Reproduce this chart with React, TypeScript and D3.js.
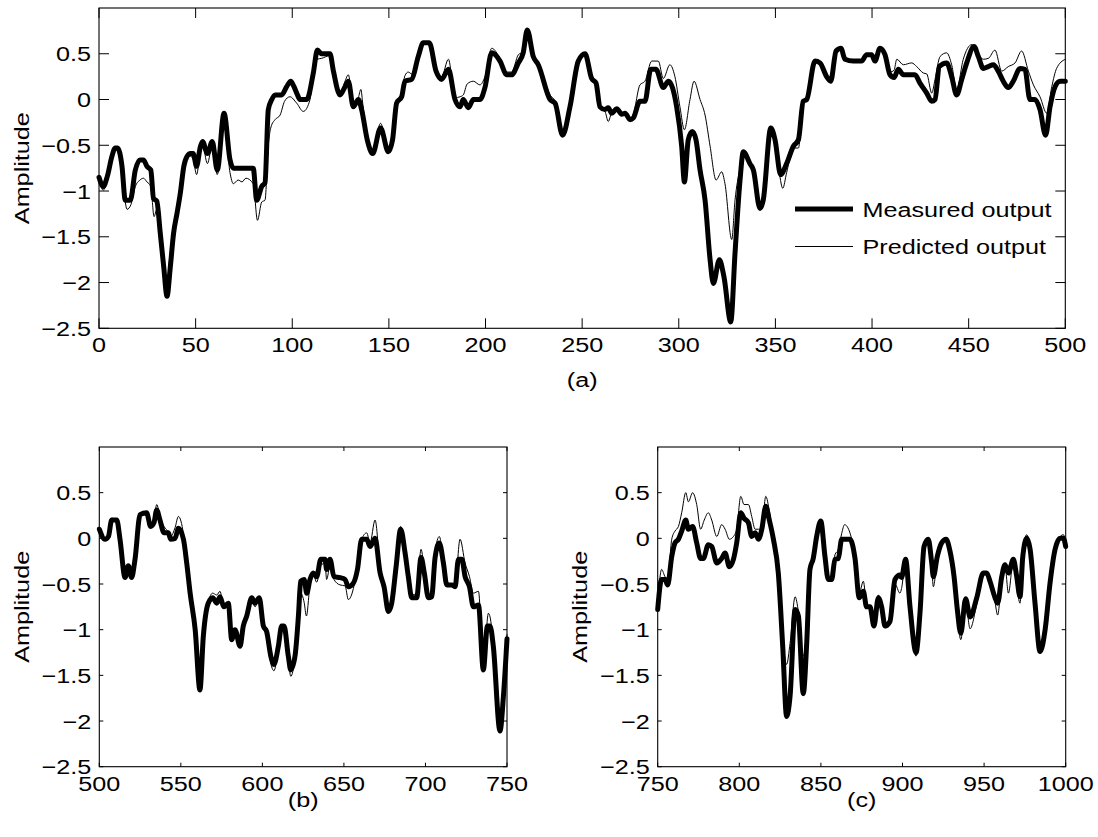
import React from "react";
import * as d3 from "d3";

// ---------- data ----------
const Y_TICKS = [-2.5, -2, -1.5, -1, -0.5, 0, 0.5];
const X_TICKS_A = [0, 50, 100, 150, 200, 250, 300, 350, 400, 450, 500];
const X_TICKS_B = [500, 550, 600, 650, 700, 750];
const X_TICKS_C = [750, 800, 850, 900, 950, 1000];
const PANEL_LABELS = ["(a)", "(b)", "(c)"];
const LEGEND_LABELS = ["Measured output", "Predicted output"];
const Y_LABEL = "Amplitude";

const measuredA: [number, number][] = [
  [0, -0.85], [2.2, -0.95], [4.3, -0.84], [6.7, -0.62], [8.4, -0.53], [9.6, -0.53], [11.9, -0.73],
  [13.6, -1.1], [16.2, -1.1], [18.8, -0.77], [21.2, -0.66], [23, -0.66], [24.8, -0.73], [26.8, -0.77],
  [28.2, -1.08], [29.9, -1.11], [31.7, -1.46], [33.5, -1.83], [35.2, -2.15], [36.9, -1.83], [38.6, -1.46],
  [40.4, -1.24], [42.1, -1.02], [43.9, -0.73], [45.6, -0.62], [47.3, -0.59], [48.7, -0.59], [50.5, -0.73],
  [52.4, -0.52], [53.6, -0.46], [56.1, -0.59], [58.6, -0.46], [61.2, -0.77], [64.7, -0.15], [67.8, -0.66],
  [69.5, -0.75], [79.8, -0.75], [81.6, -1.1], [84.2, -0.95], [85.9, -0.91], [87.6, -0.11], [89.4, 0],
  [91.1, 0.05], [94.5, 0.05], [97.1, 0.14], [99.2, 0.2], [100.9, 0.14], [102.5, 0.06], [104, 0],
  [107.5, 0], [110.9, 0.29], [113, 0.54], [115.2, 0.5], [119.5, 0.5], [121.3, 0.31], [124.7, 0.05],
  [127.3, 0.14], [129, 0.2], [131.6, -0.08], [134.2, 0], [135.9, -0.11], [138.8, -0.44], [141.6, -0.59],
  [145.7, -0.31], [149.7, -0.57], [151.9, -0.44], [154, -0.04], [156.6, 0.03], [158.3, 0.2], [161.8, 0.22],
  [165.2, 0.47], [167.8, 0.62], [170.9, 0.62], [174.4, 0.31], [177.3, 0.22], [180.8, 0.33], [184.2, 0],
  [186.8, -0.08], [188.5, 0], [191.1, -0.09], [193.7, 0], [197.1, 0], [199.7, 0.13], [203.2, 0.51],
  [207.5, 0.42], [211, 0.27], [213.5, 0.27], [217, 0.4], [219.5, 0.51], [221.6, 0.76], [224.7, 0.47],
  [227.3, 0.38], [233.4, 0], [236, -0.04], [239.9, -0.39], [243.7, -0.08], [248, 0.42], [251.5, 0.5],
  [254.9, 0.23], [257.2, 0.18], [259.2, -0.08], [261.8, -0.11], [263.5, -0.09], [265.3, -0.15],
  [267.9, -0.1], [270.5, -0.16], [272.2, -0.15], [274.8, -0.22], [276.5, -0.2], [279.9, -0.02],
  [282.5, -0.02], [285.5, 0.33], [288.2, 0.33], [292, 0.13], [294.6, 0.2], [298.9, -0.08], [301.5, -0.51],
  [302.9, -0.9], [304.9, -0.44], [307, -0.35], [308.9, -0.44], [311, -0.77], [313.6, -1.1], [316.2, -1.75],
  [317.9, -2.01], [321, -1.75], [323.4, -1.94], [326.9, -2.43], [329.1, -1.68], [331.7, -0.88],
  [333.4, -0.57], [336.8, -0.7], [338.6, -0.77], [342, -1.19], [343.7, -1.1], [347.6, -0.31],
  [349.8, -0.44], [352.7, -0.82], [355.8, -0.7], [359.3, -0.51], [361.9, -0.44], [364.4, -0.02],
  [366.2, 0], [370.5, 0.42], [373.1, 0.4], [376.5, 0.25], [378.6, 0.2], [381.4, 0.53], [383.9, 0.56],
  [386, 0.44], [390.3, 0.42], [394.6, 0.42], [397.2, 0.49], [399.8, 0.49], [401.5, 0.42], [404.1, 0.56],
  [406.7, 0.49], [409.3, 0.27], [411.4, 0.24], [413.6, 0.33], [416.2, 0.27], [422.2, 0.27], [424.8, 0.18],
  [428.3, 0.07], [430.9, -0.02], [432.6, 0], [434.8, 0.36], [438.6, 0.4], [441.2, 0.25], [443.8, 0.05],
  [446.4, 0.22], [449, 0.4], [452.8, 0.58], [455, 0.47], [457.6, 0.34], [460.2, 0.36], [462.8, 0.38],
  [465.3, 0.31], [467.9, 0.2], [470.5, 0.13], [473.1, 0.2], [476.6, 0.34], [479.1, 0.33], [481.7, 0],
  [484.3, 0], [486.9, -0.11], [489.8, -0.39], [492.1, -0.08], [494.7, 0.14], [497.3, 0.2], [500, 0.2],
];

const predictedA: [number, number][] = [
  [0, -0.88], [2.2, -0.99], [4.3, -0.88], [6.7, -0.65], [8.4, -0.55], [9.6, -0.56], [11.9, -0.8],
  [14.5, -1.2], [16.5, -1.15], [18.8, -0.95], [21.2, -0.88], [23, -0.86], [24.8, -0.9], [26.8, -0.95],
  [28.5, -1.28], [29.9, -1.2], [31.7, -1.5], [33.5, -1.85], [35, -2.05], [36.5, -1.75], [38.6, -1.4],
  [40.4, -1.25], [42.1, -1.05], [43.9, -0.8], [45.6, -0.65], [47.3, -0.62], [48.7, -0.65], [50.5, -0.82],
  [52.4, -0.58], [53.6, -0.5], [56.1, -0.7], [58.6, -0.5], [61.2, -0.82], [64.7, -0.2], [67.8, -0.8],
  [69.5, -0.92], [72, -0.88], [74, -0.9], [76, -0.86], [79.8, -0.92], [82, -1.32], [84.2, -1.12],
  [85.9, -1.1], [87.6, -0.5], [89, -0.3], [91.1, -0.22], [93.7, -0.17], [96, -0.02], [98.8, 0.03],
  [102.3, -0.04], [105.7, -0.13], [109.2, 0], [110.9, 0.3], [113, 0.44], [115.2, 0.45], [119.5, 0.48],
  [121.3, 0.33], [124.7, 0.06], [127.3, 0.2], [129, 0.27], [131.6, -0.05], [134.2, 0.02], [135.5, 0.11],
  [136.5, -0.05], [138.8, -0.43], [141.6, -0.57], [145.7, -0.26], [149.7, -0.55], [151.9, -0.43],
  [154, -0.05], [156.6, 0.08], [158.3, 0.26], [160, 0.3], [161.8, 0.28], [165.2, 0.5], [167.8, 0.62],
  [170.9, 0.6], [174.4, 0.33], [177.3, 0.25], [180.8, 0.44], [184.2, 0.02], [186.8, 0.03], [188.5, 0.05],
  [190.5, 0.17], [193.7, 0.2], [197.1, 0.16], [199.7, 0.25], [203.2, 0.56], [207.5, 0.45], [211, 0.3],
  [213.5, 0.3], [217, 0.49], [219.5, 0.52], [221.6, 0.74], [224.7, 0.47], [227.3, 0.38], [233.4, 0.05],
  [236, -0.02], [239.9, -0.38], [243.7, -0.08], [248, 0.42], [251.5, 0.5], [254.9, 0.23], [257.2, 0.18],
  [259.2, -0.1], [261.8, -0.13], [263.5, -0.24], [265.3, -0.14], [267.9, -0.1], [270.5, -0.17],
  [272.2, -0.15], [274.8, -0.22], [276.5, -0.16], [279.9, 0.16], [282.5, 0.2], [286, 0.42], [289.4, 0.42],
  [292, 0.23], [295.4, 0.38], [298, 0.25], [300.6, -0.08], [302.9, -0.33], [305.8, 0], [307.9, 0.2],
  [311, 0], [313.6, -0.17], [316.2, -0.51], [319.3, -0.88], [322.2, -0.79], [323.9, -0.92], [327.4, -1.53],
  [329.1, -1.1], [331.7, -0.75], [333.4, -0.59], [336.8, -0.72], [338.6, -0.79], [342, -1.17],
  [343.7, -1.08], [347.6, -0.33], [349.8, -0.46], [352, -0.8], [353.8, -0.97], [355.8, -0.8],
  [359.3, -0.53], [361.9, -0.53], [364.4, -0.05], [366.2, 0], [370.5, 0.4], [373.1, 0.38], [376.5, 0.25],
  [378.6, 0.22], [381.4, 0.5], [383.9, 0.55], [386, 0.43], [390.3, 0.41], [394.6, 0.42], [397.2, 0.48],
  [399.8, 0.47], [401.5, 0.43], [404.1, 0.55], [406.7, 0.48], [409.3, 0.3], [411.4, 0.32], [412.8, 0.44],
  [416.2, 0.38], [420.5, 0.4], [423.1, 0.36], [426.5, 0.29], [428.3, 0.28], [430.9, 0.07], [432.6, 0.22],
  [435.2, 0.47], [438.6, 0.51], [441.2, 0.38], [443.8, 0.11], [447.2, 0.44], [451.6, 0.6], [455, 0.49],
  [457.6, 0.44], [460.2, 0.45], [463.6, 0.54], [467.1, 0.31], [470.5, 0.36], [474, 0.4], [477.4, 0.53],
  [480.9, 0.31], [483.5, 0.16], [486.9, 0.03], [490.4, -0.15], [493, 0.14], [495.5, 0.34], [500, 0.44],
];

const measuredB: [number, number][] = [
  [500, 0.1], [503.5, -0.01], [505.6, 0.02], [507.6, 0.2], [510.7, 0.2], [512.7, -0.01], [515.8, -0.43],
  [517.8, -0.3], [519.8, -0.43], [521.9, -0.23], [525, 0.26], [529, 0.28], [531.5, 0.13], [533.5, 0.17],
  [535.2, 0.31], [537.2, 0.2], [539.7, 0.06], [542.3, 0.06], [543.8, -0.01], [546.5, 0], [548.5, 0.11],
  [551.6, -0.01], [553.6, -0.27], [555.7, -0.6], [558.8, -1], [561.7, -1.66], [563.8, -1.07],
  [566.8, -0.71], [569.5, -0.65], [572, -0.71], [574, -0.64], [576.4, -0.75], [579.1, -0.71],
  [581.2, -1.11], [583.2, -1], [586.3, -1.18], [588.3, -0.96], [590.4, -0.85], [593.5, -0.65],
  [595.5, -0.71], [598.1, -0.65], [600.6, -0.96], [602.6, -1.02], [605.3, -1.3], [607.1, -1.38],
  [609.8, -1.18], [611.8, -0.96], [613.3, -0.96], [615.9, -1.29], [617.4, -1.44], [620, -1.29],
  [622.1, -0.85], [623.5, -0.47], [625.6, -0.45], [627.2, -0.6], [629.2, -0.45], [631.2, -0.38],
  [633.3, -0.42], [635.8, -0.23], [638.4, -0.23], [639.4, -0.34], [641.5, -0.23], [643.9, -0.42],
  [647.6, -0.43], [650.7, -0.45], [652.7, -0.53], [655.8, -0.49], [658.3, -0.34], [660.9, -0.01],
  [664, -0.01], [666, -0.09], [669.1, 0], [672.2, -0.38], [674.6, -0.53], [677.3, -0.8], [679.3, -0.71],
  [682, -0.31], [684.8, 0.1], [687.5, -0.16], [689.5, -0.42], [691.6, -0.65], [694.6, -0.65],
  [697.3, -0.21], [699.3, -0.38], [701.8, -0.65], [703.8, -0.64], [705.9, -0.21], [708.5, -0.05],
  [711, -0.27], [713.1, -0.51], [716.1, -0.51], [718.2, -0.53], [720.2, -0.23], [722.3, -0.23],
  [724.3, -0.42], [727, -0.53], [729.4, -0.75], [732.5, -0.73], [735.5, -1.44], [738, -0.96],
  [739.6, -0.96], [741.6, -1.18], [745.7, -2.11], [747.8, -1.73], [750, -1.1],
];

const predictedB: [number, number][] = [
  [500, 0.08], [503.5, -0.02], [505.6, 0.03], [507.6, 0.22], [510.7, 0.2], [512.7, -0.02], [515.8, -0.42],
  [517.8, -0.3], [519.8, -0.42], [521.9, -0.2], [525, 0.27], [529, 0.27], [531.5, 0.14], [533.5, 0.2],
  [535.2, 0.37], [537.2, 0.24], [539.7, 0.13], [542.3, 0.07], [543.8, 0.02], [546.5, 0.12], [548.5, 0.24],
  [551.6, 0.05], [553.6, -0.25], [555.7, -0.6], [558.8, -1], [561.7, -1.58], [563.8, -1.05], [566.8, -0.7],
  [569.5, -0.6], [572, -0.62], [574, -0.58], [576.4, -0.75], [579.1, -0.7], [581.2, -1.12], [583.2, -1],
  [586.3, -1.15], [588.3, -0.95], [590.4, -0.86], [593.5, -0.66], [595.5, -0.75], [598.1, -0.66],
  [600.6, -0.98], [602.6, -1.05], [605.3, -1.38], [607.1, -1.45], [609.8, -1.2], [611.8, -0.98],
  [613.3, -0.98], [615.9, -1.32], [617.4, -1.51], [620, -1.3], [622.1, -0.86], [623.5, -0.6],
  [625.6, -0.7], [627, -0.85], [629.2, -0.51], [631.2, -0.4], [633.3, -0.48], [635.8, -0.3],
  [638.4, -0.27], [639.4, -0.45], [641.5, -0.3], [643.9, -0.45], [647.6, -0.51], [650.7, -0.52],
  [652.7, -0.67], [655.8, -0.55], [658.3, -0.3], [660.9, -0.01], [664, 0.06], [666, -0.05], [669.1, 0.2],
  [672.2, -0.3], [674.6, -0.5], [677.3, -0.78], [679.3, -0.7], [682, -0.3], [684.8, 0.13], [687.5, -0.15],
  [689.5, -0.4], [691.6, -0.62], [694.6, -0.6], [697.3, -0.12], [699.3, -0.35], [701.8, -0.62],
  [703.8, -0.6], [705.9, -0.15], [708.5, 0.02], [711, -0.25], [713.1, -0.48], [716.1, -0.5], [718.2, -0.5],
  [721.2, -0.01], [724.3, -0.27], [727, -0.42], [729.4, -0.6], [732.5, -0.58], [735.5, -1.4],
  [738.6, -0.82], [739.6, -0.86], [741.6, -1.15], [745.7, -1.98], [747.8, -1.65], [750, -1.05],
];

const measuredC: [number, number][] = [
  [750, -0.78], [752.4, -0.45], [754.5, -0.45], [756.1, -0.51], [758.6, -0.2], [760.6, -0.05],
  [762.7, -0.01], [764.7, 0.08], [767.2, 0.2], [768.8, 0.1], [771.4, 0.13], [773.9, -0.05], [776.3, -0.22],
  [778, -0.22], [781, -0.07], [783.1, -0.09], [786.2, -0.27], [789.2, -0.22], [791.3, -0.16],
  [793.9, -0.31], [796.4, -0.23], [798.4, -0.05], [800.9, 0.28], [802.9, 0.22], [805.6, 0.17],
  [807.6, 0.02], [809.7, 0.06], [811.7, -0.01], [813.8, 0.1], [816.2, 0.35], [818.4, 0.2], [820.9, -0.01],
  [823.9, -0.38], [826.6, -1.18], [829, -1.95], [831.1, -1.73], [834.2, -0.78], [836.2, -0.85],
  [839.2, -1.7], [841.3, -1.15], [843.3, -0.34], [845.3, -0.22], [847.4, 0.02], [849.9, 0.19],
  [852.5, -0.2], [854.5, -0.45], [856.6, -0.45], [858.6, -0.23], [860.7, -0.22], [862.7, -0.01],
  [867.8, -0.01], [870.9, -0.22], [873.5, -0.65], [876, -0.58], [878, -0.75], [880.1, -0.75],
  [882.5, -0.96], [885.2, -0.65], [887.2, -0.75], [889.3, -0.96], [892.3, -0.91], [895.4, -0.45],
  [898.4, -0.4], [899.4, -0.43], [901.9, -0.23], [904.6, -0.75], [908.3, -1.25], [910.7, -0.82],
  [913.2, -0.09], [915.8, -0.01], [917.9, -0.27], [918.9, -0.42], [921.3, -0.2], [924, -0.05],
  [926.7, -0.01], [929.1, -0.14], [931.6, -0.42], [933.6, -0.78], [935.7, -1.04], [938.7, -0.66],
  [941.4, -0.86], [945.5, -0.65], [949.5, -0.38], [951.6, -0.38], [953.6, -0.47], [956.7, -0.65],
  [958.3, -0.71], [960.8, -0.42], [962.8, -0.29], [964.9, -0.38], [967.9, -0.23], [970, -0.42],
  [972, -0.64], [973.7, -0.2], [976.1, 0], [978.2, -0.12], [981.2, -0.71], [984.3, -1.24], [987.4, -1],
  [990.4, -0.49], [993.5, -0.12], [996.6, 0], [998.6, 0], [1000, -0.09],
];

const predictedC: [number, number][] = [
  [750, -0.72], [752.4, -0.34], [754.5, -0.42], [756.1, -0.44], [758.6, -0.01], [760.6, 0.08],
  [762.7, 0.13], [764.7, 0.28], [767.2, 0.5], [768.8, 0.4], [771.4, 0.5], [773.9, 0.37], [776.3, 0.1],
  [778.5, 0.2], [781, 0.28], [783.1, 0.2], [786.2, 0.02], [789.2, 0.15], [791.3, 0.1], [793.9, -0.01],
  [796.4, 0.02], [798.4, 0.1], [800.9, 0.46], [802.9, 0.37], [805.6, 0.37], [807.6, 0.24], [809.7, 0.1],
  [811.7, 0.1], [813.8, 0.1], [816.2, 0.46], [818.4, 0.3], [820.9, -0.01], [823.9, -0.38], [826.6, -1.1],
  [829, -1.38], [831.1, -1.15], [834.2, -0.64], [836.2, -0.8], [839.2, -1.29], [841.3, -1], [843.3, -0.3],
  [845.3, -0.2], [847.4, 0.02], [849.9, 0.15], [852.5, -0.2], [854.5, -0.42], [856.6, -0.43],
  [858.6, -0.18], [860.7, -0.12], [862.7, 0.05], [864.5, 0.15], [867.8, 0.06], [870.9, -0.2],
  [873.5, -0.6], [876, -0.47], [878, -0.72], [880.1, -0.75], [882.5, -0.98], [885.2, -0.62],
  [887.2, -0.75], [889.3, -0.98], [892.3, -0.92], [895.4, -0.5], [898.4, -0.6], [899.4, -0.55],
  [901.9, -0.25], [904.6, -0.75], [908.3, -1.29], [910.7, -0.85], [913.2, -0.08], [915.8, -0.02],
  [917.9, -0.3], [918.9, -0.53], [921.3, -0.22], [924, -0.04], [926.7, -0.02], [929.1, -0.15],
  [931.6, -0.45], [933.6, -0.82], [935.7, -1.11], [938.7, -0.7], [941.4, -0.99], [945.5, -0.72],
  [949.5, -0.4], [951.6, -0.4], [953.6, -0.5], [956.7, -0.7], [958.3, -0.84], [960.8, -0.45],
  [962.8, -0.3], [964.9, -0.6], [967.9, -0.25], [970, -0.52], [972, -0.71], [973.7, -0.2], [976.1, 0.04],
  [978.2, -0.12], [981.2, -0.72], [984.3, -1.26], [987.4, -1], [990.4, -0.5], [993.5, -0.1], [996.6, 0.02],
  [998.6, 0.04], [1000, -0.05],
];

// ---------- layout ----------
const FONT = "'Liberation Sans', Arial, Helvetica, sans-serif";
const FS = 21;
const SX = 1.2;

type PanelSpec = {
  left: number; right: number; top: number; bottom: number;
  xDomain: [number, number]; xTicks: number[];
  measured: [number, number][]; predicted: [number, number][];
  label: string; labelY: number; tickLen: number; legend: boolean;
};

const fmt = (v: number) => String(v).replace("-", "\u2212");

function SText(props: { x: number; y: number; anchor: string; children: string; rotate?: boolean }) {
  const { x, y, anchor, children, rotate } = props;
  return (
    <g transform={`translate(${x},${y})${rotate ? " rotate(-90)" : ""} scale(${SX},1)`}>
      <text x={0} y={0} textAnchor={anchor} fontFamily={FONT} fontSize={FS} fill="#000">
        {children}
      </text>
    </g>
  );
}

function Panel({ p }: { p: PanelSpec }) {
  const x = d3.scaleLinear().domain(p.xDomain).range([p.left, p.right]);
  const y = d3.scaleLinear().domain([-2.5, 1]).range([p.bottom, p.top]);
  const line = d3.line<[number, number]>().x((d) => x(d[0])).y((d) => y(d[1])).curve(d3.curveMonotoneX);
  const clipId = `clip-${p.label.replace(/[()]/g, "")}`;
  const L = p.tickLen;
  const cy = (p.top + p.bottom) / 2;
  return (
    <g>
      <defs>
        <clipPath id={clipId}>
          <rect x={p.left - 3} y={p.top} width={p.right - p.left + 6} height={p.bottom - p.top} />
        </clipPath>
      </defs>
      <g clipPath={`url(#${clipId})`}>
        <path d={line(p.predicted) || ""} fill="none" stroke="#000" strokeWidth={1} strokeLinejoin="round" />
        <path d={line(p.measured) || ""} fill="none" stroke="#000" strokeWidth={5} strokeLinejoin="round" strokeLinecap="round" />
      </g>
      <rect x={p.left} y={p.top} width={p.right - p.left} height={p.bottom - p.top} fill="none" stroke="#000" strokeWidth={1.1} />
      {p.xTicks.map((t) => (
        <g key={`xt${t}`}>
          <line x1={x(t)} x2={x(t)} y1={p.bottom} y2={p.bottom - L} stroke="#000" strokeWidth={1} />
          <line x1={x(t)} x2={x(t)} y1={p.top} y2={p.top + L} stroke="#000" strokeWidth={1} />
          <SText x={x(t)} y={p.bottom + 24} anchor="middle">{fmt(t)}</SText>
        </g>
      ))}
      {Y_TICKS.map((t) => (
        <g key={`yt${t}`}>
          <line x1={p.left} x2={p.left + L} y1={y(t)} y2={y(t)} stroke="#000" strokeWidth={1} />
          <line x1={p.right} x2={p.right - L} y1={y(t)} y2={y(t)} stroke="#000" strokeWidth={1} />
          <SText x={p.left - 8} y={y(t) + 7.5} anchor="end">{fmt(t)}</SText>
        </g>
      ))}
      <SText x={p.left - 70.5} y={cy} anchor="middle" rotate>{Y_LABEL}</SText>
      <SText x={(p.left + p.right) / 2} y={p.labelY} anchor="middle">{p.label}</SText>
      {p.legend && (
        <g>
          <line x1={795} x2={853} y1={209} y2={209} stroke="#000" strokeWidth={5} />
          <line x1={795} x2={853} y1={246.5} y2={246.5} stroke="#000" strokeWidth={1} />
          <SText x={862.5} y={216.8} anchor="start">{LEGEND_LABELS[0]}</SText>
          <SText x={862.5} y={254.2} anchor="start">{LEGEND_LABELS[1]}</SText>
        </g>
      )}
    </g>
  );
}

export default function App() {
  const panels: PanelSpec[] = [
    { left: 99, right: 1065.3, top: 8, bottom: 328.3, xDomain: [0, 500], xTicks: X_TICKS_A,
      measured: measuredA, predicted: predictedA, label: PANEL_LABELS[0], labelY: 387, tickLen: 10, legend: true },
    { left: 99.3, right: 507, top: 447, bottom: 766.7, xDomain: [500, 750], xTicks: X_TICKS_B,
      measured: measuredB, predicted: predictedB, label: PANEL_LABELS[1], labelY: 807, tickLen: 4, legend: false },
    { left: 657.7, right: 1065.7, top: 447, bottom: 766.7, xDomain: [750, 1000], xTicks: X_TICKS_C,
      measured: measuredC, predicted: predictedC, label: PANEL_LABELS[2], labelY: 807, tickLen: 4, legend: false },
  ];
  return (
    <svg width={1098} height={837} style={{ position: "absolute", left: 0, top: 0, background: "#fff" }}>
      <rect x={0} y={0} width={1098} height={837} fill="#fff" />
      {panels.map((p) => <Panel key={p.label} p={p} />)}
    </svg>
  );
}
